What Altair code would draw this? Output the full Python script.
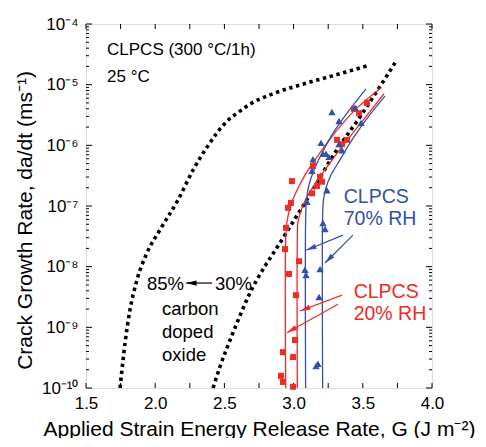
import altair as alt
import pandas as pd

# ---------------- data ----------------
# dotted curves: carbon doped oxide, 85% RH and 30% RH (G, log10 rate)
c85_G = [1.746, 1.782, 1.818, 1.868, 1.941, 2.035, 2.165, 2.273, 2.38, 2.52, 2.61, 2.685, 2.851, 3.10, 3.335, 3.53]
c85_L = [-10, -9.26, -8.71, -8.22, -7.77, -7.39, -6.90, -6.41, -6.01, -5.60, -5.44, -5.32, -5.15, -4.97, -4.82, -4.69]
c30_G = [2.418, 2.468, 2.562, 2.671, 2.923, 3.095, 3.311, 3.480, 3.624, 3.733]
c30_L = [-10, -9.65, -9.09, -8.50, -7.53, -6.90, -6.08, -5.53, -5.03, -4.64]

# fitted lines
r1_G = [2.943, 2.943, 2.952, 2.981, 3.025, 3.082, 3.155, 3.249, 3.350, 3.465, 3.632]
r1_L = [-10, -7.56, -7.26, -6.98, -6.74, -6.49, -6.24, -5.94, -5.65, -5.37, -5.05]
r2_G = [3.027, 3.027, 3.032, 3.061, 3.104, 3.176, 3.263, 3.371, 3.480, 3.653]
r2_L = [-10, -7.56, -7.26, -7.03, -6.82, -6.57, -6.29, -5.96, -5.65, -5.15]
b1_G = [3.087, 3.087, 3.093, 3.111, 3.147, 3.205, 3.285, 3.386, 3.523]
b1_L = [-10, -7.23, -6.90, -6.65, -6.41, -6.13, -5.80, -5.47, -5.07]
b2_G = [3.210, 3.210, 3.216, 3.234, 3.270, 3.335, 3.422, 3.523, 3.660]
b2_L = [-10, -7.15, -6.90, -6.70, -6.49, -6.24, -5.91, -5.58, -5.19]

# CLPCS 20% RH data (red squares)
sq_G = [3.530, 3.436, 3.473, 3.314, 3.386, 3.350, 3.140, 3.191, 3.205, 3.169, 3.133, 2.988,
        2.981, 2.960, 2.945, 2.938, 2.967, 3.039, 3.017, 3.010, 2.923, 2.996, 2.909, 2.923, 2.996]
sq_L = [-5.30, -5.40, -5.47, -5.91, -5.91, -5.98, -6.34, -6.52, -6.60, -6.67, -6.79, -6.59,
        -6.95, -7.03, -7.36, -7.71, -8.12, -7.91, -8.47, -9.21, -9.41, -9.49, -9.80, -9.90, -9.98]
# CLPCS 70% RH data (blue triangles)
tr_G = [3.277, 3.328, 3.444, 3.487, 3.198, 3.212, 3.234, 3.256, 3.350, 3.328, 3.140, 3.133,
        3.241, 3.097, 3.212, 3.227, 3.082, 3.090, 3.191, 3.184, 3.162, 3.176]
tr_L = [-5.45, -5.60, -5.38, -5.63, -5.96, -6.14, -6.14, -6.19, -6.08, -5.98, -6.23, -6.42,
        -6.74, -6.93, -7.28, -7.38, -8.05, -8.14, -8.04, -8.50, -9.64, -9.60]

# annotation arrows: start G, start log, end G, end log, colour, head angle
arr_G0 = [3.357, 3.429, 3.350, 3.321, 2.410]
arr_L0 = [-7.48, -7.48, -8.47, -8.62, -8.27]
arr_G1 = [3.090, 3.227, 3.046, 2.952, 2.223]
arr_L1 = [-7.73, -7.94, -8.73, -9.09, -8.27]
arr_col = ["blue", "blue", "red", "red", "black"]
arr_ang = [248, 225, 249, 240, 270]

# annotation texts
txt = ["CLPCS (300 °C/1h)", "25 °C", "85%", "30%", "carbon", "doped", "oxide",
       "CLPCS", "70% RH", "CLPCS", "20% RH"]
txt_G = [1.652, 1.652, 1.941, 2.432, 2.049, 2.049, 2.049, 3.362, 3.362, 3.434, 3.434]
txt_L = [-4.51, -4.956, -8.384, -8.384, -8.80, -9.17, -9.55, -6.95, -7.313, -8.516, -8.879]
txt_col = ["black"] * 7 + ["blue", "blue", "red", "red"]
txt_fs = [17, 17, 18.5, 18.5, 18.5, 18.5, 18.5, 19.5, 19.5, 19.5, 19.5]

# axes
x_ticks = [1.5, 2.0, 2.5, 3.0, 3.5, 4.0]
x_all_ticks = [1.5, 1.75, 2.0, 2.25, 2.5, 2.75, 3.0, 3.25, 3.5, 3.75, 4.0]
y_ticks = [1e-10, 1e-9, 1e-8, 1e-7, 1e-6, 1e-5, 1e-4]
y_labels = ["10⁻¹⁰", "10⁻⁹", "10⁻⁸", "10⁻⁷", "10⁻⁶", "10⁻⁵", "10⁻⁴"]
y_minor_mult = [2, 3, 4, 5, 6, 7, 8, 9]

RED = "#ee2b24"
BLUE = "#3451a8"
cmap = {"red": RED, "blue": BLUE, "black": "black"}

W, H = 346, 364
FONT = "Liberation Sans"

xscale = alt.Scale(domain=[1.5, 4.0], nice=False, zero=False)
yscale = alt.Scale(type="log", domain=[1e-10, 1e-4], nice=False)
label_expr = "[" + ",".join("'%s'" % s for s in y_labels) + "][round(log(datum.value)/LN10)+10]"
xaxis = alt.Axis(values=x_ticks, format=".1f", ticks=False, domain=False, grid=False, labelFlush=False,
                 labelFontSize=17, labelPadding=7, titleFontSize=21, titlePadding=7,
                 titleFontWeight="normal",
                 title="Applied Strain Energy Release Rate, G (J m⁻²)")
yaxis = alt.Axis(values=y_ticks, labelExpr=label_expr, ticks=False, domain=False, grid=False,
                 labelFlush=False, labelFontSize=17, labelPadding=8, titleFontSize=21, titlePadding=6,
                 titleFontWeight="normal", titleY=196,
                 title="Crack Growth Rate, da/dt (ms⁻¹)")


def X(f="G"):
    return alt.X(f, type="quantitative", scale=xscale, axis=xaxis)


def Y(f="rate"):
    return alt.Y(f, type="quantitative", scale=yscale, axis=yaxis)


def curve_df(name, G, L):
    return pd.DataFrame({"G": G, "rate": [10 ** v for v in L], "s": name, "o": range(len(G))})


dotted = pd.concat([curve_df("85", c85_G, c85_L), curve_df("30", c30_G, c30_L)])
fits = pd.concat([curve_df("r1", r1_G, r1_L), curve_df("r2", r2_G, r2_L),
                  curve_df("b1", b1_G, b1_L), curve_df("b2", b2_G, b2_L)])
fits["c"] = fits["s"].map(lambda s: RED if s.startswith("r") else BLUE)

sq = pd.DataFrame({"G": sq_G, "rate": [10 ** v for v in sq_L]})
tr = pd.DataFrame({"G": tr_G, "rate": [10 ** v for v in tr_L]})

arrows = pd.DataFrame({"G": arr_G0, "rate": [10 ** v for v in arr_L0],
                       "G1": arr_G1, "rate1": [10 ** v for v in arr_L1],
                       "c": [cmap[c] for c in arr_col], "ang": arr_ang})
heads = pd.DataFrame({"G": arr_G1, "rate": [10 ** v for v in arr_L1],
                      "c": [cmap[c] for c in arr_col], "ang": arr_ang})
texts = pd.DataFrame({"G": txt_G, "rate": [10 ** v for v in txt_L], "t": txt,
                      "c": [cmap[c] for c in txt_col], "fs": txt_fs})

xt = pd.DataFrame({"G": x_all_ticks})
ymaj = pd.DataFrame({"rate": y_ticks})
ymin = pd.DataFrame({"rate": [m * d for d in y_ticks[:-1] for m in y_minor_mult]})

layers = []
# tick marks pointing inward
layers.append(alt.Chart(xt).mark_rule(color="black", strokeWidth=1).encode(
    x=X(), y=alt.value(H), y2=alt.value(H - 5)))
layers.append(alt.Chart(xt).mark_rule(color="black", strokeWidth=1).encode(
    x=X(), y=alt.value(0), y2=alt.value(5)))
for df, ln in [(ymaj, 6), (ymin, 3)]:
    layers.append(alt.Chart(df).mark_rule(color="black", strokeWidth=1).encode(
        y=Y(), x=alt.value(0), x2=alt.value(ln)))
    layers.append(alt.Chart(df).mark_rule(color="black", strokeWidth=1).encode(
        y=Y(), x=alt.value(W), x2=alt.value(W - ln)))

layers.append(alt.Chart(dotted).mark_line(color="black", strokeWidth=3.6, strokeDash=[3.4, 3.6],
                                          strokeCap="butt", interpolate="monotone").encode(
    x=X(), y=Y(), detail="s:N", order="o:Q"))
layers.append(alt.Chart(fits).mark_line(strokeWidth=1.3, interpolate="catmull-rom").encode(
    x=X(), y=Y(), detail="s:N", order="o:Q", color=alt.Color("c:N", scale=None)))
layers.append(alt.Chart(sq).mark_point(shape="square", filled=True, opacity=1, size=36, color=RED).encode(
    x=X(), y=Y()))
layers.append(alt.Chart(tr).mark_point(shape="triangle-up", filled=True, opacity=1, size=55, color=BLUE).encode(
    x=X(), y=Y()))
layers.append(alt.Chart(arrows).mark_rule(strokeWidth=1.2).encode(
    x=X(), y=Y(), x2="G1:Q", y2="rate1:Q", color=alt.Color("c:N", scale=None)))
layers.append(alt.Chart(heads).mark_point(shape="M0,0L0.5,2L-0.5,2Z", filled=True, opacity=1, size=110).encode(
    x=X(), y=Y(), angle=alt.Angle("ang:Q", scale=None), color=alt.Color("c:N", scale=None)))
layers.append(alt.Chart(texts).mark_text(align="left", baseline="alphabetic", font=FONT).encode(
    x=X(), y=Y(), text="t:N", color=alt.Color("c:N", scale=None), size=alt.Size("fs:Q", scale=None)))

chart = alt.layer(*layers).properties(
    width=W, height=H,
    autosize=alt.AutoSizeParams(type="none"),
    padding={"left": 78, "top": 16, "right": 46, "bottom": 50},
).configure_view(stroke="black", strokeWidth=1.5).configure_axis(
    labelFont=FONT, titleFont=FONT, labelColor="black", titleColor="black",
    titleFontWeight="normal").configure(background="white")

chart.save("out.html", embed_options={"renderer": "svg", "actions": False})
